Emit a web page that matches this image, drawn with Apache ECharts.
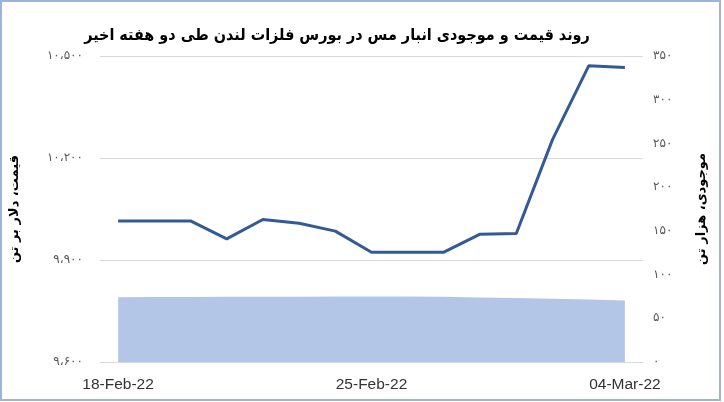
<!DOCTYPE html>
<html>
<head>
<meta charset="utf-8">
<script src="https://cdn.jsdelivr.net/npm/echarts@6/dist/echarts.min.js"></script>
<style>html,body{margin:0;padding:0;background:#fff}#c{width:724px;height:402px}</style>
</head>
<body>
<div id="c"></div>
<script>
var categories = ['18-Feb-22','19-Feb-22','20-Feb-22','21-Feb-22','22-Feb-22','23-Feb-22','24-Feb-22','25-Feb-22','26-Feb-22','27-Feb-22','28-Feb-22','01-Mar-22','02-Mar-22','03-Mar-22','04-Mar-22'];
var priceValues = [10015,10015,10015,9962,10019,10008,9985,9923,9923,9923,9976,9978,10254,10471,10466];
var stockValues = [74.2,74.3,74.4,74.5,74.6,74.7,74.8,74.9,74.9,74.5,73.8,73.2,72.4,71.4,70.3];
var titleText = 'روند قیمت و موجودی انبار مس در بورس فلزات لندن طی دو هفته اخیر';
var leftAxisName = 'قیمت، دلار بر تن';
var rightAxisName = 'موجودی، هزار تن';

function fa(v){
  var s = String(Math.round(v));
  s = s.replace(/\B(?=(\d{3})+(?!\d))/g, '،');
  return s.replace(/\d/g, function(d){ return '۰۱۲۳۴۵۶۷۸۹'[+d]; });
}

var chart = echarts.init(document.getElementById('c'));
chart.setOption({
  animation: false,
  backgroundColor: '#fff',
  title: {
    text: titleText,
    left: 332, textAlign: 'center', top: 23,
    textStyle: {fontFamily: "'DejaVu Sans Condensed', 'DejaVu Sans'", fontSize: 16, fontWeight: 'bold', color: '#000'}
  },
  grid: {left: 97, right: 81, top: 56, bottom: 40},
  xAxis: {
    type: 'category',
    data: categories,
    boundaryGap: true,
    axisLine: {lineStyle: {color: '#D9D9D9'}},
    axisTick: {show: false},
    axisLabel: {interval: 6, color: '#333333', fontSize: 15.5, margin: 15, fontFamily: 'Liberation Sans'}
  },
  yAxis: [{
    type: 'value', min: 9600, max: 10500, interval: 300,
    name: leftAxisName, nameLocation: 'middle', nameRotate: 90, nameGap: 79,
    nameTextStyle: {fontFamily: 'DejaVu Sans', fontSize: 13, fontWeight: 'bold', color: '#000'},
    axisLine: {show: false}, axisTick: {show: false},
    axisLabel: {formatter: fa, color: '#595959', fontSize: 12, margin: 17, fontFamily: 'DejaVu Sans'},
    splitLine: {lineStyle: {color: '#D9D9D9'}}
  }, {
    type: 'value', min: 0, max: 350, interval: 50,
    name: rightAxisName, nameLocation: 'middle', nameRotate: 90, nameGap: 52,
    nameTextStyle: {fontFamily: 'DejaVu Sans', fontSize: 13, fontWeight: 'bold', color: '#000'},
    axisLine: {show: false}, axisTick: {show: false},
    axisLabel: {formatter: fa, color: '#595959', fontSize: 12, margin: 10, fontFamily: 'DejaVu Sans'},
    splitLine: {show: false}
  }],
  graphic: [{
    type: 'rect', shape: {x: 1, y: 1, width: 719, height: 399},
    style: {fill: 'none', stroke: '#9DB3D8', lineWidth: 2}, silent: true
  }],
  series: [{
    type: 'line', yAxisIndex: 1, data: stockValues, symbol: 'none',
    lineStyle: {width: 0}, areaStyle: {color: '#B4C6E7', opacity: 1}, z: 1
  }, {
    type: 'line', yAxisIndex: 0, data: priceValues, symbol: 'none',
    lineStyle: {width: 3, color: '#345A96'}, z: 3
  }]
});
</script>
</body>
</html>
